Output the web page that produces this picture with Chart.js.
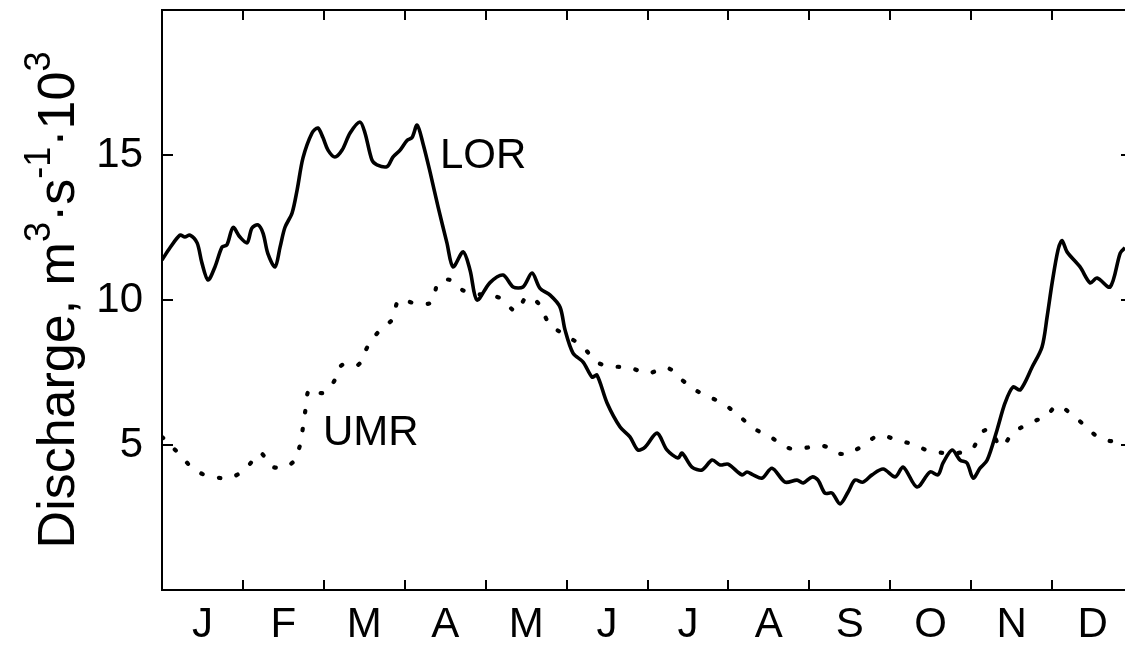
<!DOCTYPE html>
<html>
<head>
<meta charset="utf-8">
<script src="https://cdn.jsdelivr.net/npm/chart.js@4.4.1/dist/chart.umd.min.js"></script>
<style>
  html, body { margin: 0; padding: 0; background: #fff; overflow: hidden; }
  #wrap { width: 1145px; height: 645px; }
</style>
</head>
<body>
<div id="wrap"><canvas id="Descarga" width="1145" height="645"></canvas></div>
<script>
// Caudal diario medio (miles de m3/s), x = dia del año
var meses = ["J", "F", "M", "A", "M", "J", "J", "A", "S", "O", "N", "D"];
var ticksY = [5, 10, 15];

var lorDias = [0, 3, 6.8, 8.6, 10.5, 13.2, 15, 17.3, 19.9, 22.6, 24.4, 26.7, 29.3, 32, 33.8, 36.1, 38, 39.8, 42.5, 44.4,
  46.2, 48.9, 50.8, 53, 56.4, 58.6, 60.5, 62.4, 65, 67.7, 70.7, 74.4, 76.3, 78.9, 80.8, 84.6, 86.8, 89.5, 92.1, 94,
  95.9, 98.1, 100.8, 103.8, 107.1, 109.4, 113.2, 115.8, 118.4, 123.3, 128.2, 132, 135.7, 139.1, 142.1, 145.9, 149.6,
  151.5, 154.5, 158.3, 161.7, 163.5, 167.3, 172.2, 175.9, 178.9, 181.6, 186.1, 189.8, 194, 195.5, 199.2, 203, 206.8,
  209.8, 212.8, 218, 219.9, 222.2, 225.6, 229.3, 234.2, 238.7, 241, 244.4, 246.6, 249.2, 251.9, 254.9, 257.9, 260.5,
  263.5, 266.9, 271.1, 275.6, 278.6, 283.8, 288.7, 291.7, 293.6, 297, 300, 302.6, 304.9, 307.5, 310.2, 313.9, 316.9,
  319.9, 322.6, 327.1, 330.8, 332.7, 334.6, 336.8, 338.3, 340.2, 345.1, 348.9, 351.5, 356.4, 360.2, 362];
var lorCaudal = [11.38, 11.8, 12.24, 12.17, 12.24, 11.97, 11.28, 10.69, 11.14, 11.83, 11.9, 12.5, 12.17, 11.97, 12.48,
  12.59, 12.3, 11.6, 11.14, 11.83, 12.5, 13.0, 13.8, 14.9, 15.76, 15.93, 15.6, 15.17, 14.93, 15.17, 15.76, 16.14,
  15.76, 14.83, 14.66, 14.6, 14.93, 15.17, 15.5, 15.6, 16.03, 15.4, 14.4, 13.2, 11.97, 11.14, 11.66, 11.03, 10.0,
  10.6, 10.86, 10.45, 10.45, 10.93, 10.4, 10.17, 9.76, 8.97, 8.17, 7.86, 7.34, 7.41, 6.45, 5.62, 5.28, 4.83, 4.93,
  5.41, 4.83, 4.55, 4.72, 4.24, 4.14, 4.48, 4.31, 4.34, 3.97, 4.07, 3.97, 3.86, 4.2, 3.72, 3.79, 3.69, 3.9, 3.79,
  3.34, 3.34, 2.97, 3.38, 3.79, 3.72, 3.97, 4.17, 3.9, 4.24, 3.55, 4.07, 3.97, 4.38, 4.83, 4.48, 4.38, 3.86, 4.2,
  4.48, 5.52, 6.45, 7.0, 6.9, 7.69, 8.38, 9.41, 10.59, 11.72, 12.05, 11.66, 11.14, 10.59, 10.76, 10.45, 11.62, 11.8];

var umrDias = [0, 6.8, 12.4, 19.2, 26.3, 32, 36.8, 41.7, 48.9, 51.9, 53, 54.1, 55.6, 60.5, 64.3, 67.7, 73.7, 77.4, 82,
  86.8, 89.1, 94.7, 101.5, 103.8, 108.3, 113.9, 127.1, 133.1, 137.2, 141.7, 145.5, 150.8, 157.9, 163.5, 169.2, 175.9,
  182.7, 189.8, 195.9, 203, 210.5, 216.5, 222.9, 228.2, 235.3, 241.4, 248.5, 255.6, 262.8, 269.5, 276.3, 283.1,
  289.8, 303.8, 307.9, 311.3, 315.4, 319.9, 326.3, 332.3, 336.5, 341.4, 347, 352.6, 360.2, 362];
var umrCaudal = [5.28, 4.66, 4.14, 3.9, 3.9, 4.24, 4.72, 4.24, 4.38, 5.0, 5.62, 6.3, 6.93, 6.79, 7.14, 7.76, 7.76, 8.41,
  8.97, 9.36, 10.0, 9.9, 9.93, 10.59, 10.69, 10.3, 10.07, 9.62, 10.1, 9.86, 9.2, 8.83, 8.41, 7.86, 7.72, 7.66, 7.48,
  7.66, 7.21, 6.76, 6.45, 6.03, 5.55, 5.31, 4.9, 4.9, 4.97, 4.69, 4.93, 5.32, 5.17, 5.0, 4.76, 4.83, 5.41, 5.52, 4.95,
  5.41, 5.76, 6.0, 6.34, 6.1, 5.66, 5.24, 5.07, 5.0];

var fuente = "'Liberation Sans', Arial, sans-serif";

function puntos(xs, ys) {
  return xs.map((x, i) => ({ x: x, y: ys[i] }));
}

// Marco con marcas hacia adentro, nombres de las series y titulo del eje Y
var marco = {
  id: "marco",
  afterDraw(chart) {
    const ctx = chart.ctx;
    const a = chart.chartArea;
    const x = chart.scales.x;
    const y = chart.scales.y;
    ctx.save();
    ctx.strokeStyle = "#000";
    ctx.lineWidth = 2;
    ctx.strokeRect(a.left, a.top, a.right - a.left, a.bottom - a.top);

    ctx.beginPath();
    for (let k = 1; k < 12; k++) {
      const px = Math.round(x.getPixelForValue((365 * k) / 12));
      ctx.moveTo(px, a.bottom); ctx.lineTo(px, a.bottom - 10);
      ctx.moveTo(px, a.top); ctx.lineTo(px, a.top + 10);
    }
    ticksY.forEach((v) => {
      const py = Math.round(y.getPixelForValue(v));
      ctx.moveTo(a.left, py); ctx.lineTo(a.left + 11, py);
      ctx.moveTo(a.right, py); ctx.lineTo(a.right - 12, py);
    });
    ctx.stroke();

    ctx.fillStyle = "#000";
    ctx.font = "42px " + fuente;
    ctx.textAlign = "left";
    ctx.textBaseline = "alphabetic";
    ctx.fillText("LOR", x.getPixelForValue(104.5), y.getPixelForValue(14.55));
    ctx.fillText("UMR", x.getPixelForValue(60.5), y.getPixelForValue(5.0));

    // Titulo: Discharge, m^3·s^-1·10^3
    const partes = [
      ["Discharge, m", false], ["3", true], ["·", false], ["s", false],
      ["-1", true], ["·", false], ["10", false], ["3", true],
    ];
    const fNormal = "52px " + fuente;
    const fSup = "36px " + fuente;
    let total = 0;
    partes.forEach((p) => {
      ctx.font = p[1] ? fSup : fNormal;
      total += ctx.measureText(p[0]).width;
    });
    ctx.translate(74, 300);
    ctx.rotate(-Math.PI / 2);
    let pos = -total / 2;
    partes.forEach((p) => {
      ctx.font = p[1] ? fSup : fNormal;
      ctx.fillText(p[0], pos, p[1] ? -24 : 0);
      pos += ctx.measureText(p[0]).width;
    });
    ctx.restore();
  },
};

var ctx = document.getElementById("Descarga").getContext("2d");

new Chart(ctx, {
  type: "line",
  data: {
    datasets: [
      {
        label: "LOR",
        data: puntos(lorDias, lorCaudal),
        borderColor: "#000",
        borderWidth: 3.6,
        pointRadius: 0,
        tension: 0.3,
        fill: false,
      },
      {
        label: "UMR",
        data: puntos(umrDias, umrCaudal),
        borderColor: "#000",
        borderWidth: 4.2,
        borderDash: [1.5, 16.5],
        borderCapStyle: "round",
        pointRadius: 0,
        tension: 0.4,
        fill: false,
      },
    ],
  },
  options: {
    responsive: false,
    animation: false,
    layout: { padding: { top: 10, right: 12, left: 0, bottom: 0 } },
    plugins: { legend: { display: false }, tooltip: { enabled: false } },
    scales: {
      x: {
        type: "linear",
        min: 0,
        max: 365,
        grid: { display: false, drawTicks: false },
        border: { display: false },
        afterBuildTicks: (s) => {
          s.ticks = meses.map((m, i) => ({ value: (365 * (i + 0.5)) / 12 }));
        },
        afterFit: (s) => {
          s.height = 55;
          s.paddingLeft = 0;
          s.paddingRight = 0;
        },
        ticks: {
          autoSkip: false,
          maxRotation: 0,
          padding: 10,
          color: "#000",
          font: { family: fuente, size: 42 },
          callback: (v, i) => meses[i],
        },
      },
      y: {
        min: 0,
        max: 20,
        grid: { display: false, drawTicks: false },
        border: { display: false },
        afterBuildTicks: (s) => {
          s.ticks = ticksY.map((v) => ({ value: v }));
        },
        afterFit: (s) => {
          s.width = 162;
          s.paddingTop = 0;
          s.paddingBottom = 0;
        },
        ticks: {
          padding: 19,
          color: "#000",
          font: { family: fuente, size: 42 },
        },
      },
    },
  },
  plugins: [marco],
});
</script>
</body>
</html>
